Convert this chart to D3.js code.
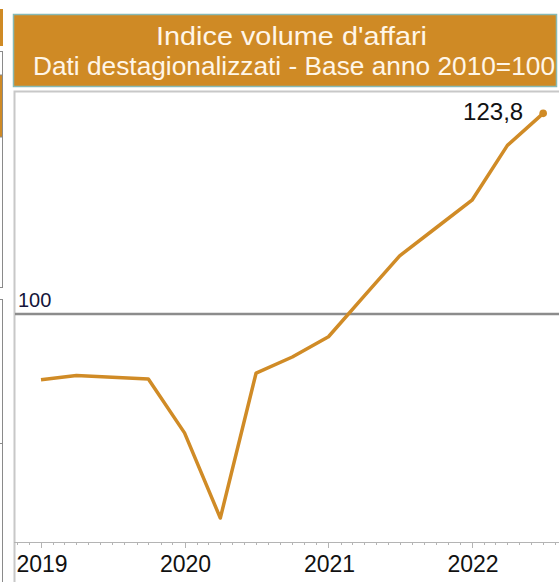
<!DOCTYPE html>
<html>
<head>
<meta charset="utf-8">
<script src="https://cdn.jsdelivr.net/npm/d3@7"></script>
<style>
  html, body { margin: 0; padding: 0; background: #fff; }
  svg { display: block; font-family: "Liberation Sans", Arial, sans-serif; }
</style>
</head>
<body>
<div id="chart"></div>
<script>
// quarterly index, base 2010 = 100
const quarters = ["2019-01", "2019-04", "2019-07", "2019-10",
    "2020-01", "2020-04", "2020-07", "2020-10",
    "2021-01", "2021-04", "2021-07", "2021-10",
    "2022-01", "2022-04", "2022-07"];
const values = [92.2, 92.7, 92.5, 92.3, 85.9, 75.8, 93.0, 94.9,
    97.3, 102.1, 106.9, 110.2, 113.5, 120.0, 123.8];
const yearTicks = ["2019", "2020", "2021", "2022"];
const baseValue = 100;
const titleLines = ["Indice volume d'affari", "Dati destagionalizzati - Base anno 2010=100"];

const W = 559, H = 582;
const orange = "#cf8a25";
const parse = d3.utcParse("%Y-%m");
const data = quarters.map((q, i) => ({ date: parse(q), value: values[i] }));

const plot = { left: 14, top: 92, right: W, bottom: 542 };

const x = d3.scaleUtc()
    .domain([parse("2019-01"), parse("2022-01")])
    .range([41, 472]);
const y = d3.scaleLinear()
    .domain([72.96, 126.33])
    .range([plot.bottom, plot.top]);

const svg = d3.select("#chart").append("svg")
    .attr("width", W).attr("height", H);

// bits of the neighbouring panel cut off at the left edge
const side = svg.append("g").attr("stroke", "#8a8a8a").attr("stroke-width", 1);
side.append("rect").attr("x", -10).attr("y", 9).attr("width", 13).attr("height", 37)
    .attr("fill", orange).attr("stroke", "none");
side.append("rect").attr("x", -10).attr("y", 51.5).attr("width", 12.5).attr("height", 236)
    .attr("fill", "none");
side.append("rect").attr("x", -10).attr("y", 75).attr("width", 12.5).attr("height", 62)
    .attr("fill", orange).attr("stroke", "#8a8a8a");
side.append("rect").attr("x", -10).attr("y", 299.5).attr("width", 12.5).attr("height", 300)
    .attr("fill", "none");
side.append("line").attr("x1", 0).attr("x2", 3).attr("y1", 443.5).attr("y2", 443.5);

// header
svg.append("rect")
    .attr("x", 13.5).attr("y", 14.5)
    .attr("width", 543).attr("height", 72)
    .attr("fill", orange)
    .attr("stroke", "#86b9b5")
    .attr("stroke-width", 1.5);

// the title text is a bit wider than plain Arial, so stretch it to its span
const titleSpan = [[156, 427], [33, 555]];
svg.append("g")
    .selectAll("text")
    .data(titleLines)
    .join("text")
    .attr("x", (d, i) => titleSpan[i][0])
    .attr("y", (d, i) => 45 + i * 29.5)
    .attr("textLength", (d, i) => titleSpan[i][1] - titleSpan[i][0])
    .attr("lengthAdjust", "spacingAndGlyphs")
    .attr("fill", "#fff6e8")
    .style("font-size", "26px")
    .text((d) => d);

// plot frame
svg.append("path")
    .attr("d", `M${plot.left + 0.5},${H}V${plot.top - 0.5}H${plot.right}`)
    .attr("fill", "none")
    .attr("stroke", "#c8c8c8")
    .attr("stroke-width", 2);

// x axis: monthly minor ticks, yearly labels
const monthTicks = d3.utcMonth.range(x.invert(plot.left), x.invert(plot.right));
const axis = svg.append("g").attr("stroke", "#b4b4b4");
axis.append("line")
    .attr("x1", plot.left).attr("x2", plot.right)
    .attr("y1", plot.bottom + 0.5).attr("y2", plot.bottom + 0.5);
axis.selectAll("line.tick")
    .data(monthTicks)
    .join("line")
    .attr("class", "tick")
    .attr("x1", (d) => Math.round(x(d)) + 0.5)
    .attr("x2", (d) => Math.round(x(d)) + 0.5)
    .attr("y1", plot.bottom)
    .attr("y2", (d) => plot.bottom + (d.getUTCMonth() === 0 ? 6 : 3));

svg.append("g")
    .selectAll("text")
    .data(yearTicks)
    .join("text")
    .attr("x", (d) => x(d3.utcParse("%Y")(d)) + 1)
    .attr("y", 572)
    .attr("text-anchor", "middle")
    .attr("fill", "#111")
    .style("font-size", "23px")
    .text((d) => d);

// base line at 100
svg.append("line")
    .attr("x1", plot.left + 1).attr("x2", plot.right)
    .attr("y1", y(baseValue)).attr("y2", y(baseValue))
    .attr("stroke", "#8c8c8c")
    .attr("stroke-width", 2.5);

svg.append("text")
    .attr("x", 18)
    .attr("y", y(baseValue) - 7)
    .attr("fill", "#15153a")
    .style("font-size", "20px")
    .text(baseValue);

// series
const line = d3.line()
    .x((d) => x(d.date))
    .y((d) => y(d.value));

svg.append("path")
    .datum(data)
    .attr("d", line)
    .attr("fill", "none")
    .attr("stroke", "#d08b26")
    .attr("stroke-width", 3.5)
    .attr("stroke-linejoin", "round");

const last = data[data.length - 1];
svg.append("circle")
    .attr("cx", x(last.date))
    .attr("cy", y(last.value))
    .attr("r", 3.8)
    .attr("fill", "#d08b26");

svg.append("text")
    .attr("x", x(last.date) - 20)
    .attr("y", y(last.value) + 6.5)
    .attr("text-anchor", "end")
    .attr("fill", "#111")
    .style("font-size", "24px")
    .text(d3.format(".1f")(last.value).replace(".", ","));
</script>
</body>
</html>
